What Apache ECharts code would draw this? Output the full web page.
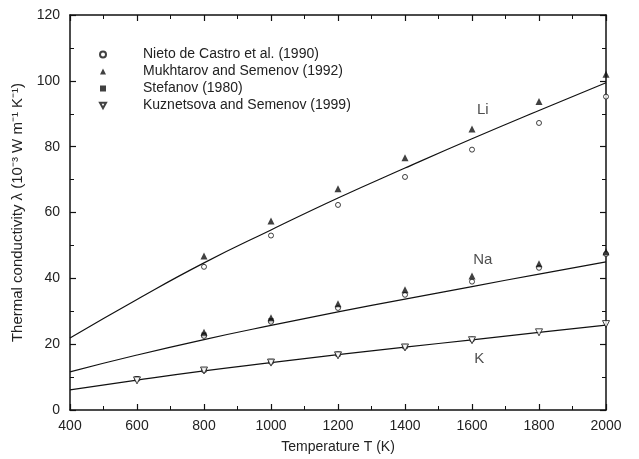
<!DOCTYPE html>
<html>
<head>
<meta charset="utf-8">
<script src="https://cdn.jsdelivr.net/npm/echarts@6/dist/echarts.min.js"></script>
<style>
html, body { margin: 0; padding: 0; background: #fff; }
#chart { width: 639px; height: 459px; }
</style>
</head>
<body>
<div id="chart"></div>
<script>
// data: [T (K), lambda (1e-3 W/m/K)]
var nietoLi = [[800, 43.5], [1000, 53], [1200, 62.3], [1400, 70.8], [1600, 79.1], [1800, 87.2], [2000, 95.2]];
var nietoNa = [[800, 22.5], [1000, 26.8], [1200, 31], [1400, 35], [1600, 39], [1800, 43.2], [2000, 47.4]];
var nietoK = [[600, 9.4], [800, 12.1], [1000, 14.6], [1200, 16.9], [1400, 19.2], [1600, 21.4]];
var mukhLi = [[800, 46.8], [1000, 57.4], [1200, 67.2], [1400, 76.6], [1600, 85.4], [1800, 93.7], [2000, 102]];
var mukhNa = [[800, 23.6], [1000, 28], [1200, 32.3], [1400, 36.5], [1600, 40.7], [1800, 44.4], [2000, 48.1]];
var stefNa = [[800, 22.8], [1000, 27.2]];
var stefK = [[600, 9.5], [800, 12.2], [1000, 14.8], [1200, 17], [1400, 19.3]];
var kuzK = [[600, 9], [800, 12], [1000, 14.4], [1200, 16.6], [1400, 19], [1600, 21.2], [1800, 23.6], [2000, 26.1]];
// fitted curves
var fitLi = [[400, 21.9], [600, 33.6], [800, 44.7], [1000, 54.7], [1200, 64.4], [1400, 73.5], [1600, 82.4], [1800, 91], [2000, 99.4]];
var fitNa = [[400, 11.6], [600, 16.7], [800, 21.4], [1000, 25.7], [1200, 29.8], [1400, 33.7], [1600, 37.5], [1800, 41.3], [2000, 45]];
var fitK = [[400, 6.1], [600, 9.1], [800, 11.9], [1000, 14.4], [1200, 16.8], [1400, 19.1], [1600, 21.3], [1800, 23.6], [2000, 25.8]];
var tags = [[1632, 91.3, 'Li'], [1632, 45.5, 'Na'], [1622, 15.6, 'K']];
var legendNames = ['Nieto de Castro et al. (1990)', 'Mukhtarov and Semenov (1992)', 'Stefanov (1980)', 'Kuznetsova and Semenov (1999)'];

var font = '"Liberation Sans", Arial, sans-serif';
var chart = echarts.init(document.getElementById('chart'));

function axisX(pos, labels) {
  return {
    type: 'value', position: pos, min: 400, max: 2000, interval: 200,
    axisLine: { onZero: false, lineStyle: { color: '#111', width: 1.5 } },
    axisTick: { show: true, inside: true, length: 6, lineStyle: { color: '#111', width: 1.2 } },
    minorTick: { show: true, splitNumber: 2, length: 4, lineStyle: { color: '#111', width: 1 } },
    splitLine: { show: false },
    axisLabel: { show: labels, color: '#222', fontSize: 14, fontFamily: font, margin: 9,
      formatter: function (v) { return String(v); } },
    name: labels ? 'Temperature T (K)' : '', nameLocation: 'middle', nameGap: 30,
    nameTextStyle: { color: '#222', fontSize: 14, fontFamily: font }
  };
}
function axisY(pos, labels) {
  return {
    type: 'value', position: pos, min: 0, max: 120, interval: 20,
    axisLine: { onZero: false, lineStyle: { color: '#111', width: 1.5 } },
    axisTick: { show: true, inside: true, length: 6, lineStyle: { color: '#111', width: 1.2 } },
    minorTick: { show: true, splitNumber: 2, length: 4, lineStyle: { color: '#111', width: 1 } },
    splitLine: { show: false },
    axisLabel: { show: labels, color: '#222', fontSize: 14, fontFamily: font, margin: 10 },
    name: labels ? 'Thermal conductivity λ (10⁻³ W m⁻¹ K⁻¹)' : '', nameLocation: 'middle', nameGap: 37,
    nameTextStyle: { color: '#222', fontSize: 15, fontFamily: font }
  };
}

var circle = { symbol: 'circle', symbolSize: 5, itemStyle: { color: '#fff', borderColor: '#111', borderWidth: 1 } };
var tri = { symbol: 'triangle', symbolSize: 7, itemStyle: { color: '#111' } };
var sq = { symbol: 'rect', symbolSize: 5, itemStyle: { color: '#111' } };
var dtri = { symbol: 'path://M0,0L10,0L5,9Z', symbolSize: 7, itemStyle: { color: '#fff', borderColor: '#111', borderWidth: 1 } };

function pts(name, data, st) {
  return Object.assign({ name: name, type: 'scatter', data: data, z: 3 }, st);
}
function fit(data) {
  return { type: 'line', data: data, smooth: true, symbol: 'none', silent: true,
    lineStyle: { color: '#111', width: 1.2 }, z: 2 };
}

var option = {
  animation: false,
  grid: { left: 70, right: 33, top: 15, bottom: 49 },
  xAxis: [axisX('bottom', true), axisX('top', false)],
  yAxis: [axisY('left', true), axisY('right', false)],
  legend: {
    data: legendNames, orient: 'vertical', left: 94, top: 42,
    itemWidth: 6, itemHeight: 6, itemGap: 2,
    textStyle: { color: '#222', fontSize: 14, fontFamily: font, padding: [0, 0, 0, 32], lineHeight: 15 }
  },
  series: [
    fit(fitLi), fit(fitNa), fit(fitK),
    pts(legendNames[2], stefNa, sq), pts(legendNames[2], stefK, sq),
    pts(legendNames[0], nietoLi, circle), pts(legendNames[0], nietoNa, circle), pts(legendNames[0], nietoK, circle),
    pts(legendNames[1], mukhLi, tri), pts(legendNames[1], mukhNa, tri),
    pts(legendNames[3], kuzK, dtri),
    { type: 'scatter', symbol: 'circle', symbolSize: 1, silent: true, data: tags,
      itemStyle: { color: 'rgba(0,0,0,0)' },
      label: { show: true, position: 'inside', formatter: function (p) { return p.data[2]; },
        color: '#222', fontSize: 15, fontFamily: font } }
  ]
};
chart.setOption(option);
</script>
</body>
</html>
